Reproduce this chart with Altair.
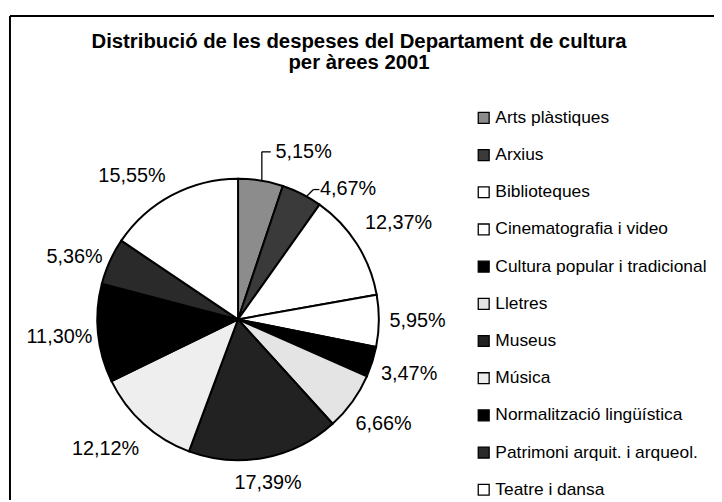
import altair as alt
import pandas as pd

categories = [
    "Arts plàstiques", "Arxius", "Biblioteques", "Cinematografia i video",
    "Cultura popular i tradicional", "Lletres", "Museus", "Música",
    "Normalització lingüística", "Patrimoni arquit. i arqueol.", "Teatre i dansa",
]
shares = [5.15, 4.67, 12.37, 5.95, 3.47, 6.66, 17.39, 12.12, 11.30, 5.36, 15.55]
fills = ["#8c8c8c", "#3a3a3a", "#ffffff", "#ffffff", "#000000", "#e4e4e4",
         "#222222", "#eeeeee", "#000000", "#2a2a2a", "#ffffff"]
title_lines = ["Distribució de les despeses del Departament de cultura", "per àrees 2001"]

FONT = "Liberation Sans"
CX, CY, R = 232, 312, 142
LR = 181

# label nudges (pixel offsets from the default polar label position)
nudges = {
    "Arts plàstiques": (37, 10),
    "Arxius": (29, 30),
    "Biblioteques": (9, 0),
    "Museus": (-4, -13),
    "Música": (-12, -3),
    "Patrimoni arquit. i arqueol.": (0, 12),
    "Teatre i dansa": (-22, 15),
}

df = pd.DataFrame({"cat": categories, "share": shares, "ord": list(range(len(categories)))})
df["label"] = [f"{v:.2f}%".replace(".", ",") for v in shares]
df["main"] = [("" if c in nudges else l) for c, l in zip(df["cat"], df["label"])]
for c in nudges:
    df["lab_" + str(categories.index(c))] = [(l if cc == c else "") for cc, l in zip(df["cat"], df["label"])]

base = alt.Chart(df).encode(
    theta=alt.Theta("share:Q", stack=True),
    order=alt.Order("ord:Q"),
)

pie = base.mark_arc(outerRadius=R, stroke="black", strokeWidth=2).encode(
    x=alt.value(CX), y=alt.value(CY),
    color=alt.Color(
        "cat:N", sort=categories,
        scale=alt.Scale(domain=categories, range=fills),
        legend=alt.Legend(
            title=None, orient="none", legendX=471, legendY=100,
            symbolType="square", symbolSize=121, symbolStrokeColor="black",
            symbolStrokeWidth=1.3, labelFont=FONT, labelFontSize=17.5,
            labelColor="black", labelLimit=300, rowPadding=18.5, labelOffset=3,
        ),
    ),
)

labels = base.mark_text(radius=LR, font=FONT, fontSize=20, color="black").encode(
    x=alt.value(CX), y=alt.value(CY), text="main:N"
)

layers = [pie, labels]
for c, (dx, dy) in nudges.items():
    layers.append(
        base.mark_text(radius=LR, font=FONT, fontSize=20, color="black", dx=dx, dy=dy).encode(
            x=alt.value(CX), y=alt.value(CY), text=f"lab_{categories.index(c)}:N"
        )
    )

# leader lines
lead = alt.Chart(pd.DataFrame({"k": [0]}))
layers += [
    lead.mark_rule(color="black", strokeWidth=1.3).encode(x=alt.value(256), y=alt.value(173), x2=alt.value(256), y2=alt.value(143)),
    lead.mark_rule(color="black", strokeWidth=1.3).encode(x=alt.value(256), y=alt.value(143), x2=alt.value(265), y2=alt.value(143)),
    lead.mark_rule(color="black", strokeWidth=1.3).encode(x=alt.value(301), y=alt.value(188), x2=alt.value(308), y2=alt.value(181)),
    lead.mark_rule(color="black", strokeWidth=1.3).encode(x=alt.value(308), y=alt.value(181), x2=alt.value(314), y2=alt.value(181)),
]

# title
for t, yy in zip(title_lines, [32, 53]):
    layers.append(
        alt.Chart(pd.DataFrame({"t": [t]})).mark_text(
            font=FONT, fontSize=20.5, fontWeight="bold", color="black", align="center", baseline="middle"
        ).encode(text="t:N", x=alt.value(354), y=alt.value(yy))
    )

# frame (top and left edges)
layers += [
    lead.mark_rule(color="black", strokeWidth=2).encode(x=alt.value(2), x2=alt.value(714), y=alt.value(6)),
    lead.mark_rule(color="black", strokeWidth=2).encode(x=alt.value(2), y=alt.value(6), y2=alt.value(494)),
]

chart = alt.layer(*layers).properties(
    width=712, height=492, padding=0, autosize="none", background="white"
).configure_view(stroke=None)

chart.save("out.html", embed_options={"renderer": "svg", "actions": False})
